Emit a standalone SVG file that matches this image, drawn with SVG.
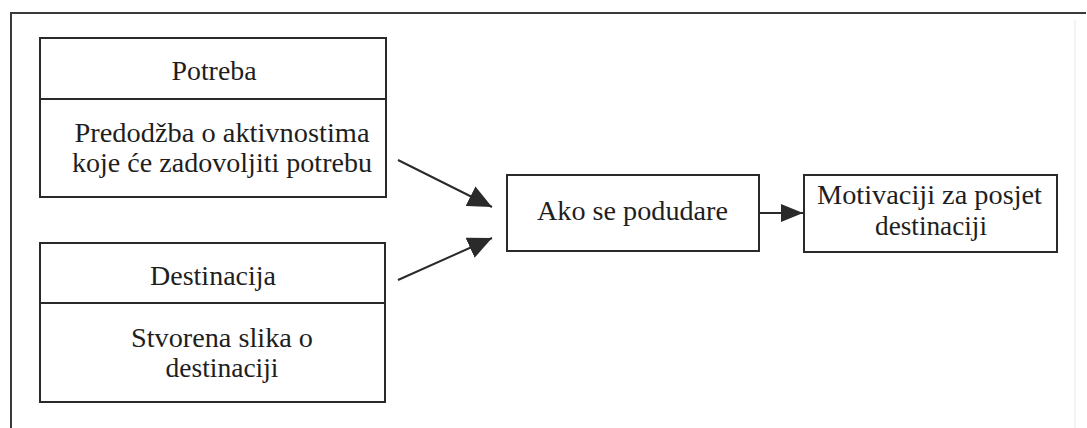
<svg xmlns="http://www.w3.org/2000/svg" width="1087" height="428" viewBox="0 0 1087 428">
<defs>
<style>
.box{fill:#fff;stroke:#2a2a2a;stroke-width:2}
.div{stroke:#2a2a2a;stroke-width:2}
.t{font-family:"Liberation Serif","Times New Roman",serif;font-size:27px;fill:#1e1e1e;text-anchor:middle}
.con{stroke:#2a2a2a;stroke-width:2;fill:none}
</style>
<marker id="ah" markerUnits="userSpaceOnUse" markerWidth="26" markerHeight="22" refX="24" refY="11" orient="auto">
<path d="M0,0 L24,11 L0,22 Z" fill="#2a2a2a"/>
</marker>
<marker id="ah2" markerUnits="userSpaceOnUse" markerWidth="24" markerHeight="20" refX="22" refY="10" orient="auto">
<path d="M0,1 L22,10 L0,19 Z" fill="#2a2a2a"/>
</marker>
</defs>
<rect width="1087" height="428" fill="#fff"/>
<path d="M11,428 L11,13 L1086,13" fill="none" stroke="#3a3a3a" stroke-width="2"/>
<line x1="1075" y1="20" x2="1075" y2="428" stroke="#e8e8e8" stroke-width="1"/>
<g id="potreba">
<rect class="box" x="40" y="38" width="346" height="159"/>
<line class="div" x1="40" y1="99" x2="386" y2="99"/>
<text class="t" x="214" y="80" textLength="85" lengthAdjust="spacingAndGlyphs">Potreba</text>
<text class="t" x="222" y="142" textLength="295" lengthAdjust="spacingAndGlyphs">Predodžba o aktivnostima</text>
<text class="t" x="222" y="172" textLength="300" lengthAdjust="spacingAndGlyphs">koje će zadovoljiti potrebu</text>
</g>
<g id="destinacija">
<rect class="box" x="40" y="243" width="345" height="159"/>
<line class="div" x1="40" y1="303" x2="385" y2="303"/>
<text class="t" x="213" y="285" textLength="126" lengthAdjust="spacingAndGlyphs">Destinacija</text>
<text class="t" x="222" y="347" textLength="182" lengthAdjust="spacingAndGlyphs">Stvorena slika o</text>
<text class="t" x="222" y="377" textLength="113" lengthAdjust="spacingAndGlyphs">destinaciji</text>
</g>
<g id="podudare">
<rect class="box" x="507" y="175" width="252" height="76"/>
<text class="t" x="632.5" y="220" textLength="191" lengthAdjust="spacingAndGlyphs">Ako se podudare</text>
</g>
<g id="motivacija">
<rect class="box" x="804" y="175" width="253" height="77"/>
<text class="t" x="929.5" y="204" textLength="225" lengthAdjust="spacingAndGlyphs">Motivaciji za posjet</text>
<text class="t" x="931" y="235" textLength="112" lengthAdjust="spacingAndGlyphs">destinaciji</text>
</g>
<g id="connectors">
<line class="con" x1="398" y1="160" x2="492" y2="207" marker-end="url(#ah)"/>
<line class="con" x1="398" y1="280" x2="492" y2="238" marker-end="url(#ah)"/>
<line class="con" x1="760" y1="213" x2="803" y2="213" marker-end="url(#ah2)"/>
</g>
</svg>
